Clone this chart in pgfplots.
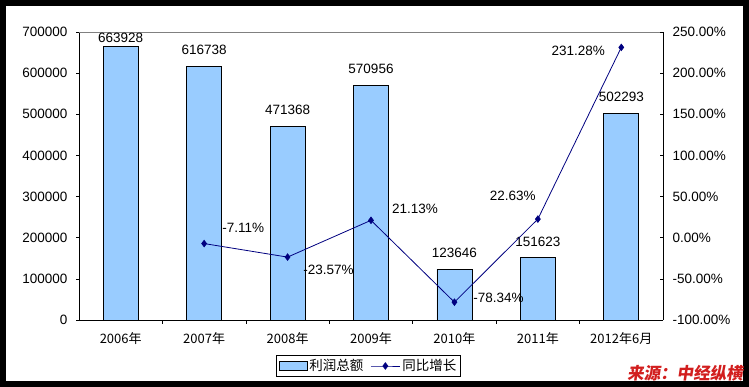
\documentclass[border=0pt]{standalone}
\usepackage{fontspec}
\setmainfont{Liberation Sans}
\newfontfamily\cjk{Noto Sans CJK SC}
\newfontfamily\srcfont[FakeSlant=0.15]{Noto Sans CJK SC}
\usepackage{pgfplots}
\usepackage{pgfplotstable}
\pgfplotsset{compat=1.18}
\definecolor{barblue}{RGB}{153,204,255}
\definecolor{navyline}{RGB}{0,0,128}
\definecolor{srcred}{RGB}{210,30,30}

\pgfplotsset{
  linelegend/.style={legend image code/.code={\draw[mark repeat=2, mark phase=2, ##1] plot coordinates {(0pt,0pt) (14.5pt,0pt) (29pt,0pt)};}},
  barlegend/.style={legend image code/.code={\draw[fill=barblue,draw=black,line width=0.8pt] (0pt,-4pt) rectangle (28pt,4.5pt);}}
}

\pgfplotstableread{
x y lab dy
0 663928 663928 3
1 616738 616738 10
2 471368 471368 10
3 570956 570956 10
4 123646 123646 10
5 151623 151623 10
6 502293 502293 10
}\bardata

\pgfplotstableread{
x y lab dx dy
1 -7.11 -7.11 39 16
2 -23.57 -23.57 41 -13
3 21.13 21.13 44 11
4 -78.34 -78.34 44 4.5
5 22.63 22.63 -25 23
6 231.28 231.28 -43 -3
}\growth

\newcommand{\lblfont}{\fontsize{13.5}{16}\selectfont}

\begin{document}
\begin{tikzpicture}
\fill[black] (0pt,0pt) rectangle (749pt,387pt);
\fill[white] (6pt,6pt) rectangle (743pt,381pt);
\pgfplotsset{myaxis/.style={scale only axis, width=584pt, height=288pt,
  at={(79pt,67pt)}, anchor=south west, xmin=-0.5, xmax=6.5,
  /pgf/number format/assume math mode=true,
  ticklabel style={font=\lblfont}, axis line style={-, black, line width=0.8pt}}}
\begin{axis}[myaxis,
  ymin=0, ymax=700000,
  axis x line*=bottom, axis y line*=left,
  ytick={0,100000,...,700000}, scaled y ticks=false,
  yticklabel style={/pgf/number format/fixed, /pgf/number format/precision=0, /pgf/number format/1000 sep={}, xshift=-5pt},
  xtick={0,...,6},
  xticklabels={\cjk 2006年,\cjk 2007年,\cjk 2008年,\cjk 2009年,\cjk 2010年,\cjk 2011年,\cjk 2012年6月},
  xticklabel style={font=\fontsize{13}{15}\selectfont, yshift=-6pt},
  major x tick style={draw=none},
  minor xtick={0.5,1.5,...,5.5},
  minor tick length=4pt,
  tick align=outside, major tick length=3pt,
  tick style={black, line width=0.6pt},
]
\addplot[ybar, bar width=35pt, fill=barblue, draw=black, line width=0.8pt,
  nodes near coords, point meta=explicit symbolic,
  visualization depends on={\thisrow{dy}\as\bdy},
  nodes near coords style={font=\lblfont, anchor=south, inner sep=1pt, yshift=\bdy pt, text=black}]
  table[x=x, y=y, meta=lab]{\bardata};
\draw[gray, line width=0.8pt] (rel axis cs:0,1) -- (rel axis cs:1,1);
\end{axis}
\begin{axis}[myaxis,
  ymin=-100, ymax=250,
  axis y line*=right, axis x line=none,
  ytick={-100,-50,...,250},
  yticklabel={\pgfmathprintnumber[fixed,precision=2,zerofill]{\tick}\%},
  yticklabel style={xshift=6pt},
  tick align=inside, major tick length=3pt,
  tick style={black, line width=0.6pt},
  legend columns=2,
  legend style={at={(0.4957,-0.1597)}, anchor=center, draw=black, line width=0.8pt,
    font=\lblfont, inner xsep=2pt, inner ysep=2pt,
    /tikz/every even column/.append style={column sep=5pt}},
]
\addlegendimage{barlegend}
\addlegendentry{\cjk 利润总额}
\addplot[navyline, line width=0.8pt, mark=diamond*, mark size=3.2pt, linelegend,
  nodes near coords={\pgfplotspointmeta\%}, point meta=explicit symbolic,
  visualization depends on={\thisrow{dx}\as\dx},
  visualization depends on={\thisrow{dy}\as\dy},
  nodes near coords style={font=\lblfont, anchor=center, xshift=\dx pt, yshift=\dy pt, text=black, inner sep=0pt}]
  table[x=x, y=y, meta=lab]{\growth};
\addlegendentry{\cjk 同比增长}
\end{axis}
\node[anchor=east, inner sep=0pt, text=srcred] at (743pt,14pt) {\srcfont\bfseries\fontsize{16.5}{16.5}\selectfont 来源：中经纵横};
\pgfresetboundingbox
\path[use as bounding box] (0pt,0pt) rectangle (749pt,387pt);
\end{tikzpicture}
\end{document}
